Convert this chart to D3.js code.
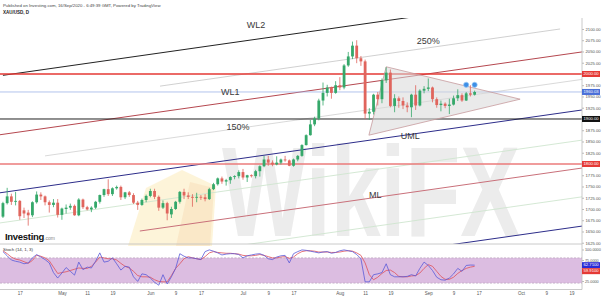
<!DOCTYPE html>
<html>
<head>
<meta charset="utf-8">
<script src="https://cdn.jsdelivr.net/npm/d3@7"></script>
<style>
  body { margin: 0; background: #fff; }
  svg { display: block; font-family: "Liberation Sans", Arial, sans-serif; }
</style>
</head>
<body>
<svg id="chart" width="602" height="298"></svg>
<script>
// XAU/USD daily candles, 13 Apr 2020 .. 16 Sep 2020 (index = trading day)
const openPx = [1683,1713,1728,1716,1718,1697,1692,1686,1715,1732,
  1728,1715,1709,1714,1687,1700,1703,1707,1686,1721,
  1704,1699,1703,1716,1731,1744,1733,1746,1749,1726,
  1737,1731,1714,1709,1720,1729,1740,1727,1703,1713,
  1688,1700,1716,1738,1730,1727,1725,1727,1726,1722,
  1744,1755,1768,1761,1764,1771,1773,1782,1770,1775,
  1773,1784,1795,1810,1803,1799,1803,1810,1808,1796,
  1810,1818,1842,1864,1888,1901,1941,1958,1970,1958,
  1975,1970,2019,2039,2063,2035,2028,1912,1916,1954,
  1944,1986,2003,1929,1946,1940,1930,1926,1954,1930,
  1963,1967,1970,1944,1931,1934,1929,1932,1946,1953,
  1941,1957,1954];
const highPx = [1716,1747,1734,1738,1720,1703,1698,1717,1739,1737,
  1730,1719,1722,1722,1703,1710,1712,1710,1724,1723,
  1707,1706,1718,1732,1745,1766,1748,1752,1752,1738,
  1740,1735,1718,1723,1732,1745,1745,1730,1719,1716,
  1705,1718,1740,1745,1737,1733,1736,1731,1733,1747,
  1758,1770,1772,1767,1773,1775,1786,1789,1776,1777,
  1787,1797,1818,1818,1808,1817,1812,1818,1810,1812,
  1820,1844,1866,1898,1905,1945,1981,1976,1972,1984,
  1993,2022,2049,2072,2075,2040,2032,1924,1956,1960,
  1990,2015,2010,1955,1950,1948,1937,1956,1975,1966,
  1973,1990,1972,1948,1941,1937,1945,1952,1966,1957,
  1960,1975,1963];
const lowPx = [1680,1710,1709,1708,1676,1680,1663,1682,1712,1720,
  1708,1692,1704,1681,1676,1690,1698,1685,1684,1700,
  1697,1693,1700,1712,1727,1729,1729,1743,1720,1722,
  1727,1711,1698,1707,1715,1726,1722,1696,1700,1675,
  1680,1698,1712,1722,1722,1705,1715,1720,1717,1720,
  1742,1752,1756,1752,1756,1766,1768,1765,1760,1770,
  1768,1772,1793,1796,1795,1797,1799,1805,1795,1794,
  1806,1816,1841,1863,1884,1897,1930,1950,1945,1956,
  1964,1966,2016,2033,2024,2018,1900,1898,1910,1930,
  1935,1980,1926,1915,1925,1922,1915,1904,1920,1928,
  1957,1962,1937,1925,1917,1924,1911,1930,1940,1938,
  1940,1950,1952];
const closePx = [1713,1728,1716,1718,1684,1690,1686,1715,1732,1728,
  1715,1709,1714,1687,1701,1703,1707,1686,1721,1704,
  1699,1703,1716,1731,1744,1733,1746,1749,1726,1737,
  1731,1714,1709,1720,1729,1740,1727,1703,1713,1690,
  1700,1716,1738,1730,1727,1725,1727,1726,1722,1744,
  1755,1768,1761,1764,1771,1773,1782,1770,1775,1773,
  1784,1795,1810,1803,1799,1803,1810,1808,1796,1810,
  1818,1842,1864,1888,1901,1941,1958,1970,1958,1975,
  1970,2019,2039,2063,2035,2028,1912,1916,1954,1944,
  1986,2003,1929,1946,1940,1930,1926,1954,1930,1963,
  1967,1970,1944,1931,1934,1929,1932,1946,1953,1941,
  1957,1954,1960];

// Stoch (14, 1, 3)
const stochK = [95,85,75,72,70,66,68,80,88,82,
  76,68,45,32,44,57,48,39,70,52,
  58,56,72,92,70,72,80,66,51,60,
  58,35,24,42,40,32,22,15,40,18,
  35,55,90,84,80,80,78,76,95,99,
  96,92,87,89,90,90,88,80,85,87,
  89,90,86,78,76,82,85,86,68,90,
  95,99,98,96,94,92,94,95,91,93,
  97,99,97,95,88,78,23,23,40,42,
  45,66,40,35,35,35,36,40,37,55,
  70,62,50,34,28,27,32,42,55,48,
  62,63,62.71];
const stochD = [97,90,82,77,75,71,67,74,86,84,
  80,73,58,43,45,47,50,53,56,55,
  55,60,70,82,80,78,78,75,67,60,
  56,48,38,35,35,34,28,24,23,23,
  38,55,66,78,83,80,78,76,83,92,
  95,93,92,91,91,90,89,86,85,85,
  86,88,86,83,80,80,82,83,79,82,
  90,95,97,97,96,94,94,94,93,93,
  94,96,97,96,92,86,68,40,28,34,
  43,50,51,45,36,35,35,37,38,44,
  55,64,60,48,36,29,29,34,43,50,
  55,58,59.91];

const priceTicks = [2100,2075,2050,2025,1975,1950,1925,1875,1850,1825,1775,1750,1725,1700,1675,1650,1625];
const stochTicks = [100,75,25];
const dateTickIdx = [4,14,20,26,35,41,47,57,63,69,80,86,92,101,107,113,123,129,135];
const dateTickText = ["17","May","11","19","Jun","9","17","Jul","9","17","Aug","11","19","Sep","9","17","Oct","9","19"];

// horizontal levels (shown as boxes on the price scale)
const levelPrices = [2000, 1960.03, 1900, 1800];

// pitchfork / channel lines: [startIdx, startPrice, endIdx, endPrice]
const wl2Line   = [0, 1997, 97.2, 2126.6];
const pct250Line = [37.3, 1973, 132.3, 2100];
const wl1Line   = [-0.7, 1865, 137.5, 2049];
const pct150Line = [10, 1818, 137.5, 1988];
const umlLine   = [-0.7, 1736, 137.5, 1920];
const upperMidLine = [-0.7, 1669, 137.5, 1853];
const mlLine    = [32.5, 1651, 137.5, 1791];
const lowerMidLine = [-0.7, 1543, 137.5, 1727];
const lowerLine = [-0.7, 1478, 137.5, 1662];

// triangle pattern
const triIdx = [86.9, 91, 122.8];
const triPrice = [1864, 2016, 1944];

// event markers
const eventIdx = [110, 112];
const eventPrice = [1976, 1976];

const svg = d3.select('#chart');
const plotRight = 582, mainTop = 18, mainBottom = 244, stochBottom = 289.5;

const x = d3.scaleLinear().domain([-0.7, 137.5]).range([0, plotRight]);
const y = d3.scaleLinear().domain([1622.2, 2124.4]).range([mainBottom, mainTop]);
const ys = d3.scaleLinear().domain([0, 100]).range([291.5, 249.5]);

const defs = svg.append('defs');
defs.append('clipPath').attr('id', 'clipMain')
  .append('rect').attr('x', 0).attr('y', mainTop).attr('width', plotRight).attr('height', mainBottom - mainTop);
defs.append('clipPath').attr('id', 'clipStoch')
  .append('rect').attr('x', 0).attr('y', mainBottom).attr('width', plotRight).attr('height', stochBottom - mainBottom);

svg.append('rect').attr('width', 602).attr('height', 298).attr('fill', '#fff');

// watermark (WikiFX)
const wm = svg.append('g');
wm.append('path')
  .attr('d', 'M128,246 L146,188 L182,170 L216,186 L212,246 Z')
  .attr('fill', '#fcf1cf').attr('opacity', 0.8);
wm.append('path')
  .attr('d', 'M176,246 L190,182 L214,188 L210,246 Z')
  .attr('fill', '#f8dfbd').attr('opacity', 0.6);
wm.append('text')
  .attr('x', 222).attr('y', 236)
  .attr('font-size', 128).attr('font-weight', 'bold')
  .attr('textLength', 298).attr('lengthAdjust', 'spacingAndGlyphs')
  .attr('fill', '#ececec')
  .text('WikiFX');

const main = svg.append('g').attr('clip-path', 'url(#clipMain)');

// channel lines
const seg = (l) => [[x(l[0]), y(l[1])], [x(l[2]), y(l[3])]];
const lineGen = d3.line();
const channel = [
  [wl2Line, '#222', 1],
  [pct250Line, '#c4c4c4', 0.8],
  [wl1Line, '#b5474f', 1],
  [pct150Line, '#cfcfcf', 0.8],
  [umlLine, '#2d2d8a', 1],
  [upperMidLine, '#cfe5cf', 0.9],
  [mlLine, '#c9707a', 1],
  [lowerMidLine, '#cfe5cf', 0.9],
  [lowerLine, '#2d2d8a', 1]
];
channel.forEach(([l, c, w]) => {
  main.append('path').attr('d', lineGen(seg(l)))
    .attr('stroke', c).attr('stroke-width', w).attr('fill', 'none');
});

// horizontal levels
const levelStyle = [['#e53935', 1.3], ['#9db3e6', 0.8], ['#222', 1], ['#eb7b7b', 1.5]];
levelPrices.forEach((p, i) => {
  main.append('line')
    .attr('x1', 0).attr('x2', plotRight)
    .attr('y1', y(p)).attr('y2', y(p))
    .attr('stroke', levelStyle[i][0]).attr('stroke-width', levelStyle[i][1]);
});

// triangle
main.append('polygon')
  .attr('points', triIdx.map((d, i) => [x(d), y(triPrice[i])].join(',')).join(' '))
  .attr('fill', '#d9d9d9').attr('fill-opacity', 0.55)
  .attr('stroke', '#c79a9d').attr('stroke-width', 0.8);

// candles
const up = '#35a86a', down = '#e0655d';
const candles = main.append('g');
openPx.forEach((o, i) => {
  const c = closePx[i];
  const col = c >= o ? up : down;
  candles.append('line')
    .attr('x1', x(i)).attr('x2', x(i))
    .attr('y1', y(highPx[i])).attr('y2', y(lowPx[i]))
    .attr('stroke', col).attr('stroke-width', 0.8);
  const top = y(Math.max(o, c)), bot = y(Math.min(o, c));
  candles.append('rect')
    .attr('x', x(i) - 1.4).attr('width', 2.8)
    .attr('y', top).attr('height', Math.max(bot - top, 0.8))
    .attr('fill', col);
});

// event markers
eventIdx.forEach((d, i) => {
  main.append('circle').attr('cx', x(d)).attr('cy', y(eventPrice[i])).attr('r', 2.6)
    .attr('fill', '#3d8fe6').attr('stroke', '#9cc8f5').attr('stroke-width', 0.7);
});

// line labels
const lineLabels = [['WL2', 60.1, 2107], ['250%', 101, 2071], ['WL1', 54, 1958],
  ['150%', 55.8, 1880], ['UML', 96.7, 1860], ['ML', 88.4, 1729]];
lineLabels.forEach(([t, i, p]) => {
  main.append('text').attr('x', x(i)).attr('y', y(p))
    .attr('text-anchor', 'middle').attr('dominant-baseline', 'middle')
    .attr('font-size', 9).attr('fill', '#3a3a3a').text(t);
});

// stoch pane
const stoch = svg.append('g').attr('clip-path', 'url(#clipStoch)');
stoch.append('rect')
  .attr('x', 0).attr('width', plotRight)
  .attr('y', ys(80)).attr('height', ys(20) - ys(80))
  .attr('fill', '#dcbde1');
[80, 20].forEach(v => {
  stoch.append('line').attr('x1', 0).attr('x2', plotRight)
    .attr('y1', ys(v)).attr('y2', ys(v))
    .attr('stroke', '#b8a3bb').attr('stroke-width', 0.7).attr('stroke-dasharray', '2,1.5');
});
const stochLine = d3.line().x((d, i) => x(i)).y(d => ys(d));
stoch.append('path').attr('d', stochLine(stochD))
  .attr('fill', 'none').attr('stroke', '#e0505a').attr('stroke-width', 0.8);
stoch.append('path').attr('d', stochLine(stochK))
  .attr('fill', 'none').attr('stroke', '#5a5ad8').attr('stroke-width', 0.8);

// pane borders
svg.append('line').attr('x1', 0).attr('x2', plotRight).attr('y1', mainBottom).attr('y2', mainBottom)
  .attr('stroke', '#bdbdbd').attr('stroke-width', 0.8);
svg.append('line').attr('x1', 0).attr('x2', plotRight).attr('y1', stochBottom).attr('y2', stochBottom)
  .attr('stroke', '#bdbdbd').attr('stroke-width', 0.8);

// axes
const fmt2 = d3.format('.2f'), fmt4 = d3.format('.4f');
const yAxis = d3.axisRight(y).tickValues(priceTicks).tickFormat(fmt2).tickSizeInner(2).tickSizeOuter(0).tickPadding(1.5);
const ga = svg.append('g').attr('transform', `translate(${plotRight},0)`).call(yAxis);
const sAxis = d3.axisRight(ys).tickValues(stochTicks).tickFormat(fmt4).tickSizeInner(2).tickSizeOuter(0).tickPadding(1);
const gs = svg.append('g').attr('transform', `translate(${plotRight},0)`).call(sAxis);
[ga, gs].forEach(g => {
  g.select('.domain').remove();
  g.selectAll('line').attr('stroke', '#bbb');
  g.selectAll('text').attr('font-size', 4.2).attr('fill', '#555');
});
gs.selectAll('text').attr('font-size', 3.8);
svg.append('line').attr('x1', plotRight).attr('x2', plotRight).attr('y1', mainTop).attr('y2', stochBottom)
  .attr('stroke', '#bdbdbd').attr('stroke-width', 0.8);

const xAxis = d3.axisBottom(x).tickValues(dateTickIdx)
  .tickFormat((d, i) => dateTickText[i]).tickSize(0).tickPadding(2.5);
const gx = svg.append('g').attr('transform', `translate(0,${stochBottom})`).call(xAxis);
gx.select('.domain').remove();
gx.selectAll('text').attr('font-size', 4.5).attr('fill', '#555');

// price label boxes
const boxFill = ['#e53935', '#4a6fd8', '#111', '#e53935'];
function axisBox(yy, fill, txt) {
  svg.append('rect').attr('x', plotRight).attr('y', yy - 3).attr('width', 18).attr('height', 6).attr('fill', fill);
  svg.append('text').attr('x', plotRight + 1.5).attr('y', yy).attr('dominant-baseline', 'middle')
    .attr('font-size', 4.2).attr('fill', '#fff').text(txt);
}
levelPrices.forEach((p, i) => axisBox(y(p), boxFill[i], fmt2(p)));
const kLast = stochK[stochK.length - 1], dLast = stochD[stochD.length - 1];
const kY = ys(kLast);
const dY = Math.max(ys(dLast), kY + 6);
axisBox(kY, '#2b2bd6', fmt4(kLast));
axisBox(dY, '#e53935', fmt4(dLast));

// header and labels
svg.append('text').attr('x', 3).attr('y', 6.5).attr('font-size', 4.3).attr('fill', '#444')
  .text('Published on Investing.com, 16/Sep/2020 - 6:49:39 GMT, Powered by TradingView');
svg.append('text').attr('x', 3).attr('y', 14).attr('font-size', 4.5).attr('font-weight', 'bold').attr('fill', '#222')
  .text('XAU/USD, D');
const logo = svg.append('text').attr('x', 5).attr('y', 240).attr('fill', '#111');
logo.append('tspan').attr('font-size', 9.5).attr('font-weight', 900).attr('letter-spacing', -0.3).text('Investing');
logo.append('tspan').attr('font-size', 5).attr('fill', '#888').text('.com');
svg.append('text').attr('x', 3).attr('y', 251).attr('font-size', 4.4).attr('fill', '#333')
  .text('Stoch (14, 1, 3)');
</script>
</body>
</html>
